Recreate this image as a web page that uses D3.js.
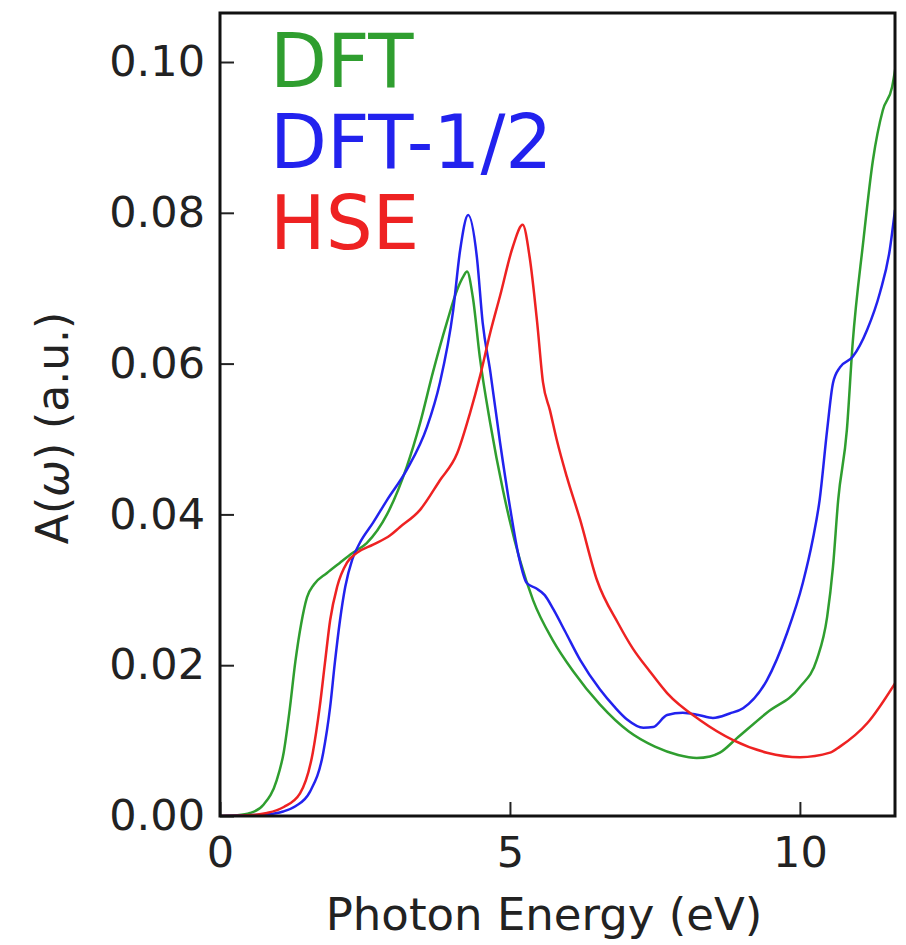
<!DOCTYPE html>
<html>
<head>
<meta charset="utf-8">
<script src="https://cdn.jsdelivr.net/npm/d3@7"></script>
<style>
  body { margin: 0; background: #fff; }
  text { font-family: "DejaVu Sans", sans-serif; }
</style>
</head>
<body>
<div id="chart"></div>
<script>
// photon energy (eV) and A(w), one pair of arrays per method
const dftE = [0, 0.3, 0.52, 0.75, 0.98, 1.1, 1.2, 1.3, 1.4, 1.5, 1.62, 1.84, 2.07, 2.29, 2.53, 2.88, 3.22, 3.45, 3.67, 3.91, 4.09, 4.2, 4.26, 4.36, 4.48, 4.66, 4.88, 5.17, 5.4, 5.74, 6.09, 6.55, 7.05, 7.5, 7.9, 8.22, 8.45, 8.62, 8.91, 9.43, 10.0, 10.29, 10.47, 10.57, 10.66, 10.81, 10.91, 11.09, 11.26, 11.43, 11.59, 11.67];
const dftA = [0, 0.0001, 0.0004, 0.0015, 0.0048, 0.0085, 0.014, 0.0205, 0.0255, 0.029, 0.0307, 0.0322, 0.0336, 0.0349, 0.0362, 0.04, 0.0463, 0.0521, 0.0588, 0.0654, 0.0698, 0.0716, 0.0722, 0.0688, 0.0609, 0.0521, 0.0432, 0.034, 0.0286, 0.0233, 0.0192, 0.0148, 0.0112, 0.0092, 0.0081, 0.0077, 0.0079, 0.0084, 0.0103, 0.0137, 0.0171, 0.0207, 0.0264, 0.033, 0.0419, 0.0512, 0.0627, 0.076, 0.087, 0.0936, 0.0967, 0.1003];

const halfE = [0, 0.5, 0.8, 1.09, 1.3, 1.55, 1.78, 1.9, 1.98, 2.07, 2.16, 2.28, 2.41, 2.64, 2.88, 3.22, 3.57, 3.79, 4.02, 4.14, 4.28, 4.43, 4.53, 4.66, 4.83, 5.0, 5.15, 5.29, 5.45, 5.6, 5.75, 5.95, 6.21, 6.55, 6.8, 7.02, 7.3, 7.47, 7.71, 7.98, 8.25, 8.5, 8.79, 9.02, 9.43, 9.78, 10.05, 10.22, 10.34, 10.47, 10.57, 10.69, 10.91, 11.16, 11.38, 11.55, 11.64];
const halfA = [0, 0.0001, 0.0002, 0.0006, 0.0013, 0.0032, 0.0084, 0.0145, 0.0203, 0.026, 0.0304, 0.034, 0.0362, 0.0389, 0.0419, 0.0459, 0.0516, 0.0574, 0.067, 0.075, 0.0797, 0.0741, 0.0654, 0.059, 0.0495, 0.041, 0.0345, 0.0309, 0.0302, 0.0293, 0.0274, 0.0245, 0.0207, 0.0168, 0.0145, 0.0128, 0.0117, 0.0118, 0.0134, 0.0137, 0.0134, 0.013, 0.0136, 0.0143, 0.018, 0.0243, 0.0309, 0.0366, 0.0419, 0.0512, 0.0574, 0.0595, 0.0609, 0.0645, 0.0694, 0.0751, 0.0804];

const hseE = [0, 0.5, 0.81, 1.1, 1.38, 1.6, 1.72, 1.81, 1.9, 2.02, 2.19, 2.36, 2.64, 2.93, 3.1, 3.45, 3.79, 4.09, 4.31, 4.48, 4.66, 4.83, 5.05, 5.22, 5.34, 5.47, 5.57, 5.69, 5.81, 5.98, 6.21, 6.5, 6.87, 7.12, 7.41, 7.71, 8.28, 8.84, 9.43, 10.0, 10.52, 10.69, 11.16, 11.64];
const hseA = [0, 0.0001, 0.0004, 0.0012, 0.003, 0.0084, 0.0145, 0.0203, 0.026, 0.0304, 0.0336, 0.0349, 0.036, 0.0372, 0.0383, 0.0406, 0.0445, 0.0481, 0.0534, 0.0582, 0.0641, 0.069, 0.0755, 0.0784, 0.0741, 0.0654, 0.0575, 0.0538, 0.0498, 0.045, 0.0393, 0.0313, 0.0255, 0.0222, 0.0192, 0.0163, 0.0127, 0.0101, 0.0084, 0.0078, 0.0084, 0.0092, 0.0123, 0.0176];

const seriesNames = ["DFT", "DFT-1/2", "HSE"];
const seriesColors = ["#2f9e2f", "#2222ee", "#ee2222"];
const xTicks = [0, 5, 10];
const yTicks = [0, 0.02, 0.04, 0.06, 0.08, 0.10];

const margin = { top: 13, right: 11, bottom: 129, left: 220 };
const width = 906 - margin.left - margin.right;
const height = 945 - margin.top - margin.bottom;

const series = [
    { name: seriesNames[0], values: dftE.map((e, i) => ({ e: e, a: dftA[i] })) },
    { name: seriesNames[1], values: halfE.map((e, i) => ({ e: e, a: halfA[i] })) },
    { name: seriesNames[2], values: hseE.map((e, i) => ({ e: e, a: hseA[i] })) }
];

const x = d3.scaleLinear().domain([0, 11.64]).range([0, width]);
const y = d3.scaleLinear().domain([0, 0.1065]).range([height, 0]);

const svg = d3.select("#chart")
    .append("svg")
    .attr("width", 906)
    .attr("height", 945);

svg.append("defs").append("clipPath")
    .attr("id", "clip")
    .append("rect")
    .attr("width", width)
    .attr("height", height);

const g = svg.append("g")
    .attr("transform", `translate(${margin.left},${margin.top})`);

// curves
const line = d3.line()
    .x(d => x(d.e))
    .y(d => y(d.a))
    .curve(d3.curveMonotoneX);

g.append("g")
    .attr("clip-path", "url(#clip)")
    .selectAll(".line")
    .data(series)
    .enter().append("path")
    .attr("class", "line")
    .attr("d", d => line(d.values))
    .attr("fill", "none")
    .style("stroke", (d, i) => seriesColors[i])
    .style("stroke-width", 2.5);

// axes, ticks pointing inward
const xAxis = g.append("g")
    .attr("transform", `translate(0,${height})`)
    .call(d3.axisBottom(x).tickValues(xTicks).tickFormat(d3.format("d")).tickSize(-14).tickPadding(20));

const yAxis = g.append("g")
    .call(d3.axisLeft(y).tickValues(yTicks).tickFormat(d3.format(".2f")).tickSize(-14).tickPadding(15));

[xAxis, yAxis].forEach(ax => {
    ax.select(".domain").remove();
    ax.selectAll(".tick line").attr("stroke", "#222").attr("stroke-width", 2);
    ax.selectAll(".tick text")
        .style("font-family", "DejaVu Sans, sans-serif")
        .style("font-size", "43px")
        .attr("fill", "#222");
});

// frame
g.append("rect")
    .attr("width", width)
    .attr("height", height)
    .attr("fill", "none")
    .attr("stroke", "#111")
    .attr("stroke-width", 3);

// legend as coloured text
g.selectAll(".legend")
    .data(seriesNames)
    .enter().append("text")
    .attr("class", "legend")
    .attr("x", 50)
    .attr("y", (d, i) => 74 + i * 81)
    .style("font-size", "74px")
    .attr("fill", (d, i) => seriesColors[i])
    .text(d => d);

// axis labels
svg.append("text")
    .attr("x", 544)
    .attr("y", 930)
    .attr("text-anchor", "middle")
    .style("font-size", "45px")
    .attr("fill", "#222")
    .text("Photon Energy (eV)");

const ylab = svg.append("text")
    .attr("transform", "translate(68,428) rotate(-90)")
    .attr("text-anchor", "middle")
    .style("font-size", "44px")
    .attr("fill", "#222");
ylab.append("tspan").text("A(");
ylab.append("tspan").style("font-style", "italic").text("ω");
ylab.append("tspan").text(") (a.u.)");
</script>
</body>
</html>
